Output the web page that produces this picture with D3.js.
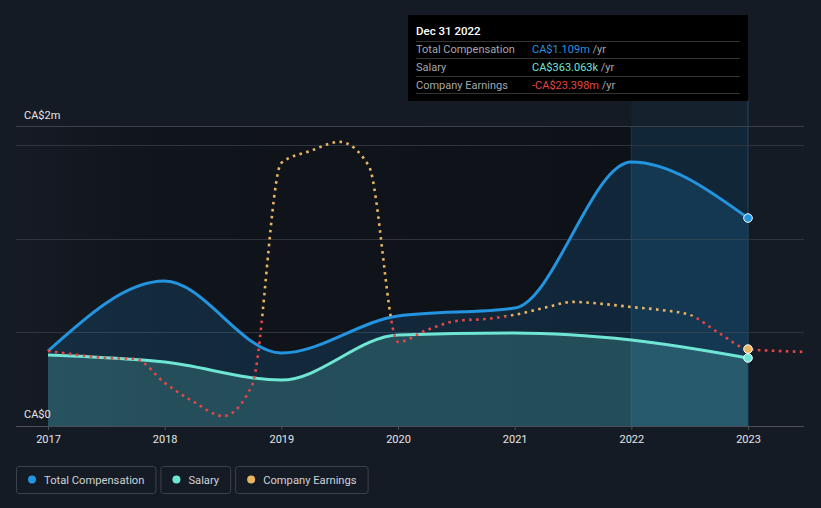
<!DOCTYPE html>
<html><head><meta charset="utf-8">
<script src="https://cdn.jsdelivr.net/npm/d3@7"></script>
<style>
html,body{margin:0;padding:0;background:#151b24;}
svg{display:block;font-family:Roboto,"Noto Sans",sans-serif;}
</style></head><body>
<svg id="chart" width="821" height="508"></svg>
<script>
// ---- data (CA$ millions) ----
const years = [2017, 2018, 2019, 2020, 2021, 2022, 2023];
const yearLabels = ["2017", "2018", "2019", "2020", "2021", "2022", "2023"];
const totalComp = [0.40, 0.773, 0.389, 0.587, 0.629, 1.408, 1.109];
const salary = [0.379, 0.341, 0.245, 0.485, 0.496, 0.459, 0.363063];
const earningsDates = [2017.0, 2017.25, 2017.5, 2017.75, 2018.0, 2018.25, 2018.5, 2018.75,
  2019.0, 2019.25, 2019.5, 2019.75, 2020.0, 2020.25, 2020.5, 2020.75,
  2021.0, 2021.25, 2021.5, 2021.75, 2022.0, 2022.25, 2022.5, 2022.75,
  2023.0, 2023.25, 2023.48];
const earnings = [-24.7, -27.5, -29.7, -30.4, -47.4, -60.9, -70.9, -48.8,
  108.8, 117.3, 123.7, 106.6, -18.3, -9.8, -3.4, -2.0,
  0.9, 5.8, 10.1, 8.7, 6.5, 4.4, 0.9, -11.9,
  -23.398, -24.7, -25.4];
const gridValues = [0.5, 1.0, 1.5];
const yLabelTop = "CA$2m";
const yLabelBottom = "CA$0";
const legendLabels = ["Total Compensation", "Salary", "Company Earnings"];
const tooltipTitle = "Dec 31 2022";
const tooltipLabels = ["Total Compensation", "Salary", "Company Earnings"];
const tooltipValues = ["CA$1.109m", "CA$363.063k", "-CA$23.398m"];
const highlightStart = 2022, highlightEnd = 2023;

(function () {
// ---- styles ----
const C = {comp: "#2394df", salary: "#6fe6d5", earnPos: "#e9b563", earnNeg: "#e64646",
  text: "#e6e6e6", muted: "#a3a7ad"};

const svg = d3.select("#chart");
const defs = svg.append("defs");

const x = d3.scaleLinear().domain([2017, 2023]).range([48, 748]);
const y = d3.scaleLinear().domain([0, 1.6]).range([426, 126]);
const yE = d3.scaleLinear().domain([-78, 135]).range([426, 126]);
const pL = 16, pR = 804, pT = 126, pB = 426;

// plot background gradient
const bg = defs.append("linearGradient").attr("id", "bgGrad").attr("x1", 0).attr("x2", 1).attr("y1", 0).attr("y2", 0);
bg.append("stop").attr("offset", "0%").attr("stop-color", "#151b24");
bg.append("stop").attr("offset", "25%").attr("stop-color", "#10141b");
bg.append("stop").attr("offset", "100%").attr("stop-color", "#0e1218");
svg.append("rect").attr("x", pL).attr("y", pT).attr("width", x(highlightStart) - pL).attr("height", pB - pT)
  .attr("fill", "url(#bgGrad)");

// highlight band
svg.append("rect").attr("x", x(highlightStart)).attr("y", 100).attr("width", x(highlightEnd) - x(highlightStart))
  .attr("height", pT - 100).attr("fill", C.comp).attr("opacity", 0.05);
svg.append("rect").attr("x", x(highlightStart)).attr("y", pT).attr("width", x(highlightEnd) - x(highlightStart))
  .attr("height", pB - pT).attr("fill", "#0f1319");
svg.append("rect").attr("x", x(highlightStart)).attr("y", pT).attr("width", x(highlightEnd) - x(highlightStart))
  .attr("height", pB - pT).attr("fill", C.comp).attr("opacity", 0.15);
svg.append("line").attr("x1", x(highlightStart)).attr("x2", x(highlightStart)).attr("y1", pT).attr("y2", pB)
  .attr("stroke", "#1c3650").attr("stroke-width", 1);

// gridlines
svg.append("g").selectAll("line").data(gridValues).join("line")
  .attr("x1", pL).attr("x2", pR).attr("y1", d => Math.round(y(d)) + 0.5).attr("y2", d => Math.round(y(d)) + 0.5)
  .attr("stroke", "#262c35").attr("stroke-width", 1);
svg.append("line").attr("x1", pL).attr("x2", pR).attr("y1", pT + 0.5).attr("y2", pT + 0.5)
  .attr("stroke", "#3b4049").attr("stroke-width", 1);

// areas
const curve = d3.curveMonotoneX;
const compData = years.map((yr, i) => ({x: yr, v: totalComp[i]}));
const salData = years.map((yr, i) => ({x: yr, v: salary[i]}));
const earnData = earningsDates.map((d, i) => ({x: d, v: earnings[i]}));

svg.append("path").datum(compData)
  .attr("d", d3.area().x(d => x(d.x)).y0(y(0)).y1(d => y(d.v)).curve(curve))
  .attr("fill", C.comp).attr("opacity", 0.17);
svg.append("path").datum(salData)
  .attr("d", d3.area().x(d => x(d.x)).y0(y(0)).y1(d => y(d.v)).curve(curve))
  .attr("fill", C.salary).attr("opacity", 0.2);

// gridlines visible through areas (faint)
svg.append("g").selectAll("line").data(gridValues).join("line")
  .attr("x1", pL).attr("x2", pR).attr("y1", d => Math.round(y(d)) + 0.5).attr("y2", d => Math.round(y(d)) + 0.5)
  .attr("stroke", "#ffffff").attr("stroke-opacity", 0.04).attr("stroke-width", 1);

// vertical marker line
svg.append("line").attr("x1", x(highlightEnd)).attr("x2", x(highlightEnd)).attr("y1", 100).attr("y2", pB)
  .attr("stroke", "#1f4767").attr("stroke-width", 1);

// lines
svg.append("path").datum(salData)
  .attr("d", d3.line().x(d => x(d.x)).y(d => y(d.v)).curve(curve))
  .attr("fill", "none").attr("stroke", C.salary).attr("stroke-width", 3);
svg.append("path").datum(compData)
  .attr("d", d3.line().x(d => x(d.x)).y(d => y(d.v)).curve(curve))
  .attr("fill", "none").attr("stroke", C.comp).attr("stroke-width", 3);

// earnings: coloured by sign
const zeroY = yE(0);
defs.append("clipPath").attr("id", "clipPos").append("rect").attr("x", 0).attr("y", 0).attr("width", 821).attr("height", zeroY);
defs.append("clipPath").attr("id", "clipNeg").append("rect").attr("x", 0).attr("y", zeroY).attr("width", 821).attr("height", 508 - zeroY);
const earnLine = d3.line().x(d => x(d.x)).y(d => yE(d.v)).curve(curve);
[["clipPos", C.earnPos], ["clipNeg", C.earnNeg]].forEach(([clip, col]) => {
  svg.append("path").datum(earnData).attr("d", earnLine)
    .attr("clip-path", `url(#${clip})`)
    .attr("fill", "none").attr("stroke", col).attr("stroke-width", 2.6)
    .attr("stroke-dasharray", "2.6 4.4");
});

// axis
svg.append("line").attr("x1", pL).attr("x2", pR).attr("y1", pB + 0.5).attr("y2", pB + 0.5)
  .attr("stroke", "#4b5058").attr("stroke-width", 1.2);
const ax = svg.append("g").attr("transform", `translate(0,${pB})`)
  .call(d3.axisBottom(x).tickValues(years).tickFormat((d, i) => yearLabels[i]).tickSize(4).tickPadding(5));
ax.select(".domain").remove();
ax.selectAll(".tick line").attr("stroke", "#4b5058");
ax.selectAll(".tick text").attr("fill", C.text).attr("font-size", 11).attr("font-family", "Roboto, sans-serif");

// y labels
svg.append("text").attr("x", 24).attr("y", 119).attr("fill", C.text).attr("font-size", 11).text(yLabelTop);
svg.append("text").attr("x", 24).attr("y", 418).attr("fill", C.text).attr("font-size", 11).text(yLabelBottom);

// end markers
const lastI = years.length - 1;
[[y(salary[lastI]), C.salary], [yE(earnings[earningsDates.indexOf(2023.0)]), C.earnPos], [y(totalComp[lastI]), C.comp]]
  .forEach(([cy, col]) => {
    svg.append("circle").attr("cx", x(2023)).attr("cy", cy).attr("r", 4.3)
      .attr("fill", col).attr("stroke", "#ffffff").attr("stroke-width", 1);
  });

// tooltip
const tt = svg.append("g");
tt.append("rect").attr("x", 408).attr("y", 15).attr("width", 340).attr("height", 86).attr("fill", "#000");
tt.append("text").attr("x", 416).attr("y", 35).attr("fill", "#ffffff").attr("font-size", 11.5).attr("font-weight", 500).text(tooltipTitle);
[41, 58, 76, 93].forEach(yy => tt.append("line").attr("x1", 416).attr("x2", 740).attr("y1", yy + 0.5).attr("y2", yy + 0.5)
  .attr("stroke", "#343434").attr("stroke-width", 1));
const valCols = [C.comp, C.salary, C.earnNeg];
tooltipLabels.forEach((lab, i) => {
  const by = 53 + i * 18;
  tt.append("text").attr("x", 416).attr("y", by).attr("fill", C.muted).attr("font-size", 11).text(lab);
  const t = tt.append("text").attr("x", 532).attr("y", by).attr("font-size", 11);
  t.append("tspan").attr("fill", valCols[i]).text(tooltipValues[i]);
  t.append("tspan").attr("fill", C.muted).text(" /yr");
});

// legend
const legCols = [C.comp, C.salary, C.earnPos];
let lx = 16;
legendLabels.forEach((lab, i) => {
  const g = svg.append("g");
  const txt = g.append("text").attr("x", lx + 28).attr("y", 483.5).attr("fill", "#cfd2d6").attr("font-size", 11.2).text(lab);
  const w = txt.node().getComputedTextLength() + 39;
  g.insert("rect", "text").attr("x", lx + 0.5).attr("y", 466.5).attr("width", w).attr("height", 27).attr("rx", 2.5)
    .attr("fill", "none").attr("stroke", "#3b414b").attr("stroke-width", 1);
  g.append("circle").attr("cx", lx + 16).attr("cy", 479.5).attr("r", 4).attr("fill", legCols[i]);
  lx += w + 5;
});
})();
</script>
</body></html>
